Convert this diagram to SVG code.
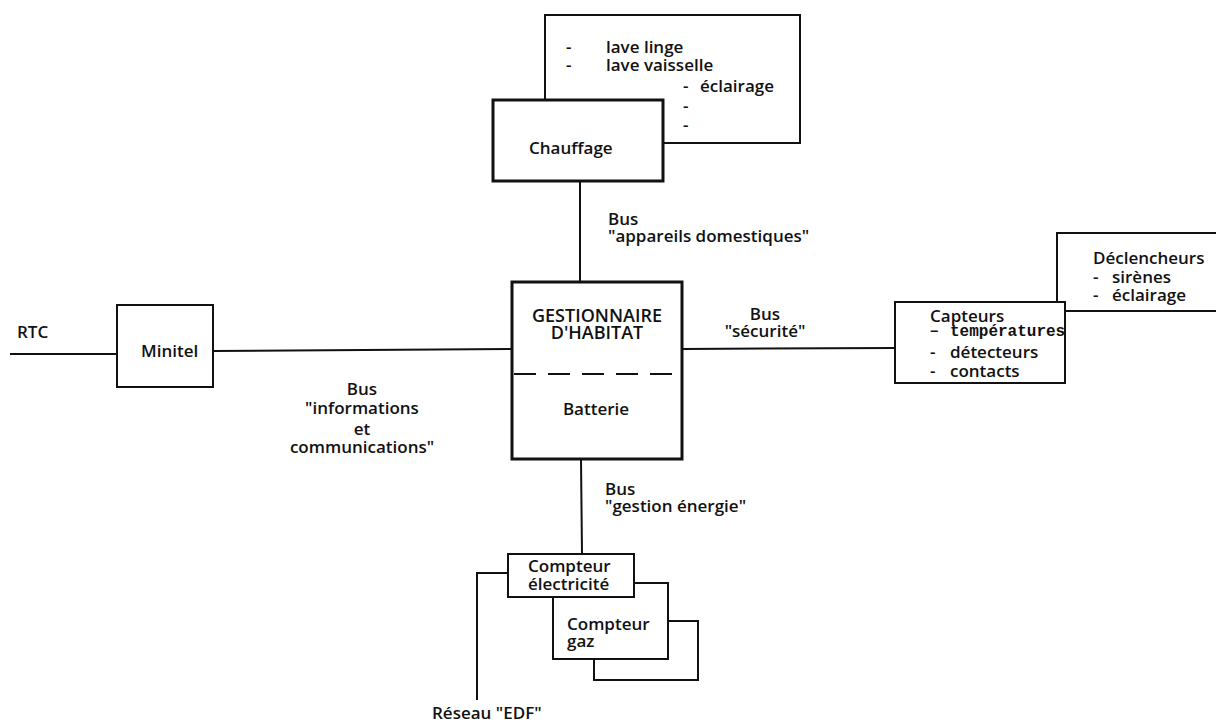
<svg xmlns="http://www.w3.org/2000/svg" width="1216" height="725" viewBox="0 0 1216 725">
<style>
.t{font-family:"Open Sans","Liberation Sans",sans-serif;font-weight:600;font-size:17px;fill:#111}
.c{text-anchor:middle}
.m{font-family:"Liberation Mono","DejaVu Sans Mono",monospace;font-weight:700;font-size:16px;fill:#111}
.ln{fill:none;stroke:#111;stroke-width:2}
.bx{fill:#fff;stroke:#111;stroke-width:2}
.bx3{fill:#fff;stroke:#111;stroke-width:3}
</style>
<rect width="1216" height="725" fill="#fff"/>
<g id="connectors">
<line class="ln" x1="10" y1="354" x2="117" y2="354"/>
<line class="ln" x1="213" y1="351" x2="512" y2="349"/>
<line class="ln" x1="682" y1="349" x2="895" y2="348"/>
<line class="ln" x1="580" y1="181" x2="580" y2="282"/>
<line class="ln" x1="581" y1="459" x2="582" y2="554"/>
<polyline class="ln" points="508,573 477,573 477,700"/>
</g>
<g id="appareils">
<rect class="bx" x="545" y="15" width="255" height="128"/>
<text class="t" x="566" y="53">-</text>
<text class="t" x="606" y="53">lave linge</text>
<text class="t" x="566" y="71">-</text>
<text class="t" x="606" y="71">lave vaisselle</text>
<text class="t" x="683" y="92">-</text>
<text class="t" x="700" y="92">éclairage</text>
<text class="t" x="683" y="112">-</text>
<text class="t" x="683" y="131">-</text>
</g>
<g id="chauffage">
<rect class="bx3" x="493" y="100" width="170" height="81"/>
<text class="t" x="529" y="154">Chauffage</text>
</g>
<g id="label-appareils">
<text class="t" x="608" y="225">Bus</text>
<text class="t" x="608" y="242">"appareils domestiques"</text>
</g>
<g id="gestionnaire">
<rect class="bx3" x="512" y="282" width="170" height="177"/>
<text class="t c" x="597" y="322" style="font-size:18px">GESTIONNAIRE</text>
<text class="t c" x="597" y="339" style="font-size:18px">D'HABITAT</text>
<line x1="514" y1="374" x2="680" y2="374" stroke="#111" stroke-width="2" stroke-dasharray="22,12"/>
<text class="t c" x="596" y="415">Batterie</text>
</g>
<g id="label-securite">
<text class="t c" x="765" y="320">Bus</text>
<text class="t c" x="765" y="337">"sécurité"</text>
</g>
<g id="declencheurs">
<rect class="bx" x="1057" y="233" width="170" height="78"/>
<text class="t" x="1093" y="264">Déclencheurs</text>
<text class="t" x="1093" y="283">-</text>
<text class="t" x="1112" y="283">sirènes</text>
<text class="t" x="1093" y="301">-</text>
<text class="t" x="1112" y="301">éclairage</text>
</g>
<g id="capteurs">
<rect class="bx" x="895" y="302" width="170" height="81"/>
<text class="t" x="930" y="322">Capteurs</text>
<text class="t" x="930" y="336">–</text>
<text class="m" x="950" y="336">températures</text>
<text class="t" x="930" y="358">-</text>
<text class="t" x="950" y="358">détecteurs</text>
<text class="t" x="930" y="377">-</text>
<text class="t" x="950" y="377">contacts</text>
</g>
<g id="rtc">
<text class="t" x="17" y="338">RTC</text>
</g>
<g id="minitel">
<rect class="bx" x="117" y="305" width="96" height="82"/>
<text class="t" x="141" y="357">Minitel</text>
</g>
<g id="label-info">
<text class="t c" x="362" y="395">Bus</text>
<text class="t c" x="362" y="414">"informations</text>
<text class="t c" x="362" y="435">et</text>
<text class="t c" x="362" y="453">communications"</text>
</g>
<g id="label-energie">
<text class="t" x="605" y="495">Bus</text>
<text class="t" x="605" y="512">"gestion énergie"</text>
</g>
<g id="compteur-3">
<rect class="bx" x="594" y="621" width="104" height="59"/>
</g>
<g id="compteur-gaz">
<rect class="bx" x="553" y="583" width="115" height="76"/>
<text class="t" x="567" y="630">Compteur</text>
<text class="t" x="567" y="647">gaz</text>
</g>
<g id="compteur-elec">
<rect class="bx" x="508" y="554" width="126" height="43"/>
<text class="t" x="528" y="572">Compteur</text>
<text class="t" x="528" y="590">électricité</text>
</g>
<g id="reseau">
<text class="t" x="432" y="719">Réseau "EDF"</text>
</g>
</svg>
